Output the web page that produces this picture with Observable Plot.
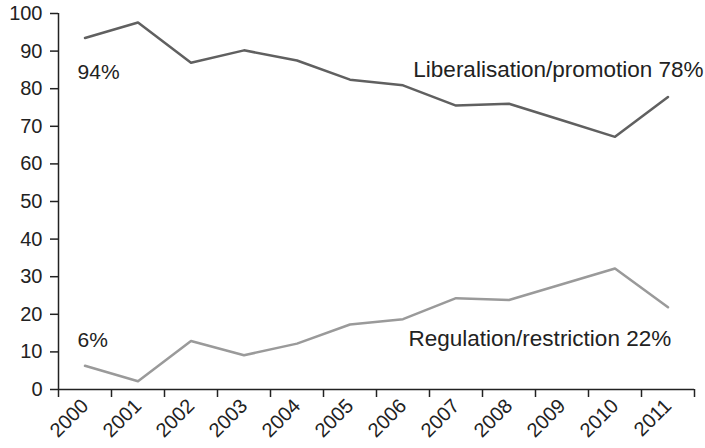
<!DOCTYPE html>
<html>
<head>
<meta charset="utf-8">
<script src="https://cdn.jsdelivr.net/npm/d3@7"></script>
<script src="https://cdn.jsdelivr.net/npm/@observablehq/plot@0.6"></script>
<style>
  html, body { margin: 0; padding: 0; background: #fff; }
  #chart svg { font-family: "Liberation Sans", Arial, Helvetica, sans-serif; }
</style>
</head>
<body>
<div id="chart"></div>
<script>
const years = [2000, 2001, 2002, 2003, 2004, 2005, 2006, 2007, 2008, 2009, 2010, 2011];
const liberalisation = [93.5, 97.6, 86.9, 90.2, 87.5, 82.4, 80.9, 75.5, 76.0, 71.6, 67.2, 77.8];
const regulation = [6.3, 2.2, 12.9, 9.1, 12.2, 17.3, 18.7, 24.3, 23.8, 28.0, 32.2, 21.9];
const yTicks = [0, 10, 20, 30, 40, 50, 60, 70, 80, 90, 100];
const bandEdges = [1999.5, 2000.5, 2001.5, 2002.5, 2003.5, 2004.5, 2005.5, 2006.5, 2007.5, 2008.5, 2009.5, 2010.5, 2011.5];
const startLabels = [
  {text: "94%", x: 1999.86, y: 82.5},
  {text: "6%", x: 1999.86, y: 11.4}
];
const endLabels = [
  {text: "Liberalisation/promotion 78%", x: 2011.67, y: 83.0},
  {text: "Regulation/restriction 22%", x: 2011.06, y: 11.5}
];

const libData = years.map((y, i) => ({year: y, value: liberalisation[i]}));
const regData = years.map((y, i) => ({year: y, value: regulation[i]}));

const chart = Plot.plot({
  width: 705,
  height: 448,
  marginLeft: 58,
  marginRight: 11,
  marginTop: 13,
  marginBottom: 59,
  style: {fontSize: "20px", color: "#222", background: "#fff", overflow: "visible"},
  x: {domain: [1999.5, 2011.5]},
  y: {domain: [0, 100]},
  marks: [
    Plot.axisY({ticks: yTicks, tickSize: 8, tickPadding: 8, label: null, stroke: "#222", strokeWidth: 1.5, fill: "#222"}),
    Plot.axisX({ticks: bandEdges, tickSize: 8, tickFormat: () => "", label: null, stroke: "#222", strokeWidth: 1.5}),
    Plot.axisX({ticks: years, tickSize: 0, tickRotate: -45, tickPadding: 13, tickFormat: d => String(d), label: null, fill: "#222"}),
    Plot.ruleY([0], {stroke: "#222", strokeWidth: 1.5}),
    Plot.ruleX([1999.5], {stroke: "#222", strokeWidth: 1.5}),
    Plot.line(libData, {x: "year", y: "value", stroke: "#606060", strokeWidth: 2.5}),
    Plot.line(regData, {x: "year", y: "value", stroke: "#9a9a9a", strokeWidth: 2.5}),
    Plot.text(startLabels, {x: "x", y: "y", text: "text", textAnchor: "start", fontSize: 21, fill: "#222", lineAnchor: "bottom"}),
    Plot.text(endLabels, {x: "x", y: "y", text: "text", textAnchor: "end", fontSize: 22.5, fill: "#222", lineAnchor: "bottom", style: "letter-spacing: 0.2px"})
  ]
});
document.getElementById("chart").appendChild(chart);
</script>
</body>
</html>
